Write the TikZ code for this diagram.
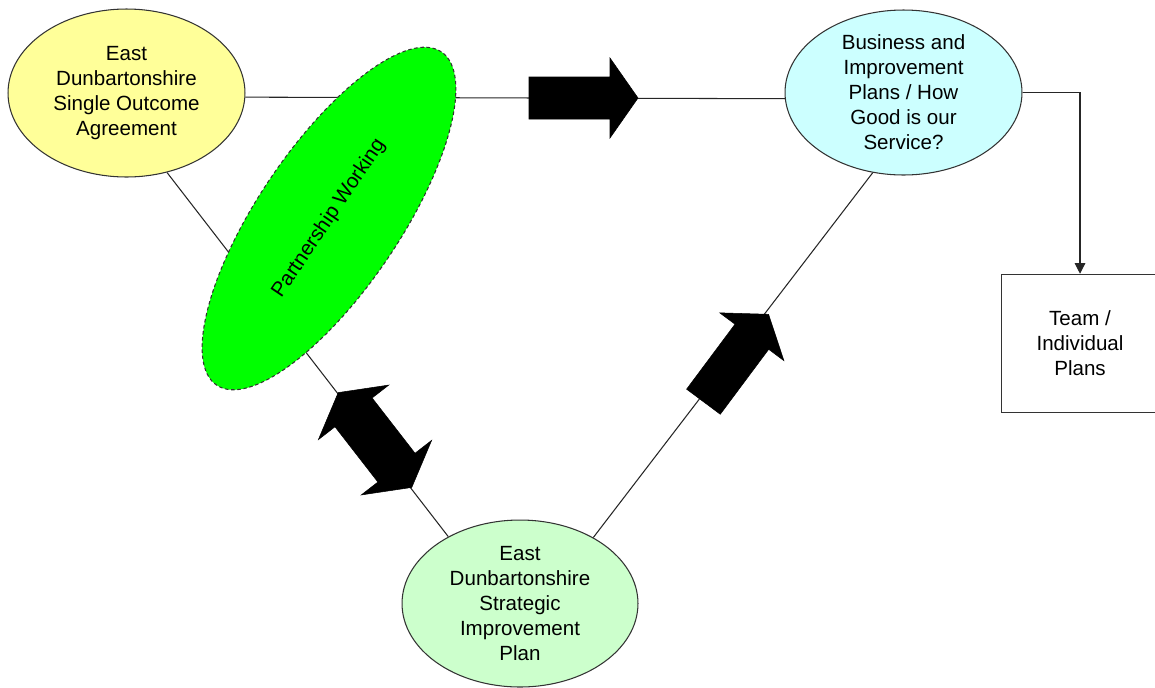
\documentclass[tikz,border=0pt]{standalone}
\usepackage{fontspec}
\setmainfont{Liberation Sans}
\usetikzlibrary{shapes.geometric,arrows.meta}
\definecolor{giallino}{HTML}{FFFF99}
\definecolor{celeste}{HTML}{CCFFFF}
\definecolor{verdino}{HTML}{CCFFCC}
\definecolor{verde}{HTML}{00FF00}

\begin{document}
\begin{tikzpicture}[x=0.02cm, y=-0.02cm,
    testo/.style={align=center, font=\fontsize{11.7}{14.2}\selectfont},
    bolla/.style={testo, ellipse, draw=black!80, line width=0.6pt, inner xsep=0pt, inner ysep=-3pt},
    linea/.style={black!85, line width=0.6pt},
    freccia/.style={fill=black, draw=black, line width=0.3pt}]
    \useasboundingbox (0,0) rectangle (1155,687);
    % Bolle principali
    \node[bolla, fill=giallino, minimum width=4.74cm, minimum height=3.36cm] (soa) at (126.5,93)
      {East\\Dunbartonshire\\Single Outcome\\Agreement};
    \node[bolla, fill=celeste, minimum width=4.74cm, minimum height=3.30cm] (piani) at (903.5,92.5)
      {Business and\\Improvement\\Plans / How\\Good is our\\Service?};
    \node[bolla, fill=verdino, minimum width=4.72cm, minimum height=3.34cm] (sip) at (520,603.5)
      {East\\Dunbartonshire\\Strategic\\Improvement\\Plan};
    % Riquadro a destra (tagliato dal bordo)
    \node[testo, draw=black!80, line width=0.6pt, minimum width=3.16cm, minimum height=2.77cm] (team) at (1080,343.5)
      {Team /\\Individual\\Plans};
    % Collegamenti
    \draw[linea] (soa.-2) -- (piani.183);
    \draw[linea] (soa.-63) -- (sip.137);
    \draw[linea] (sip.42) -- (piani.249);
    \draw[linea, -{Triangle[width=6pt,length=6pt]}] (piani.east) -| (team.north);
    % Partnership
    \node[bolla, fill=verde, dash pattern=on 2pt off 1.5pt, rotate=56,
      minimum width=8.04cm, minimum height=2.84cm] (partner) at (329,218.5) {Partnership Working};
    % Frecce piene
    \foreach \cx/\cy/\ang in {583.5/98/0, 736/358/53.3} {
      \path[freccia, shift={(\cx,\cy)}, rotate=\ang] (-54.5,-21) -- (26.5,-21) -- (26.5,-40)
        -- (54.5,0) -- (26.5,40) -- (26.5,21) -- (-54.5,21) -- cycle;
    }
    % Freccia doppia
    \path[freccia, shift={(375,440)}, rotate=-52.2] (-60,0) -- (-35,-44.5) -- (-35,-23.5)
      -- (35,-23.5) -- (35,-44.5) -- (60,0) -- (35,44.5) -- (35,23.5) -- (-35,23.5) -- (-35,44.5) -- cycle;
  \end{tikzpicture}
\end{document}
